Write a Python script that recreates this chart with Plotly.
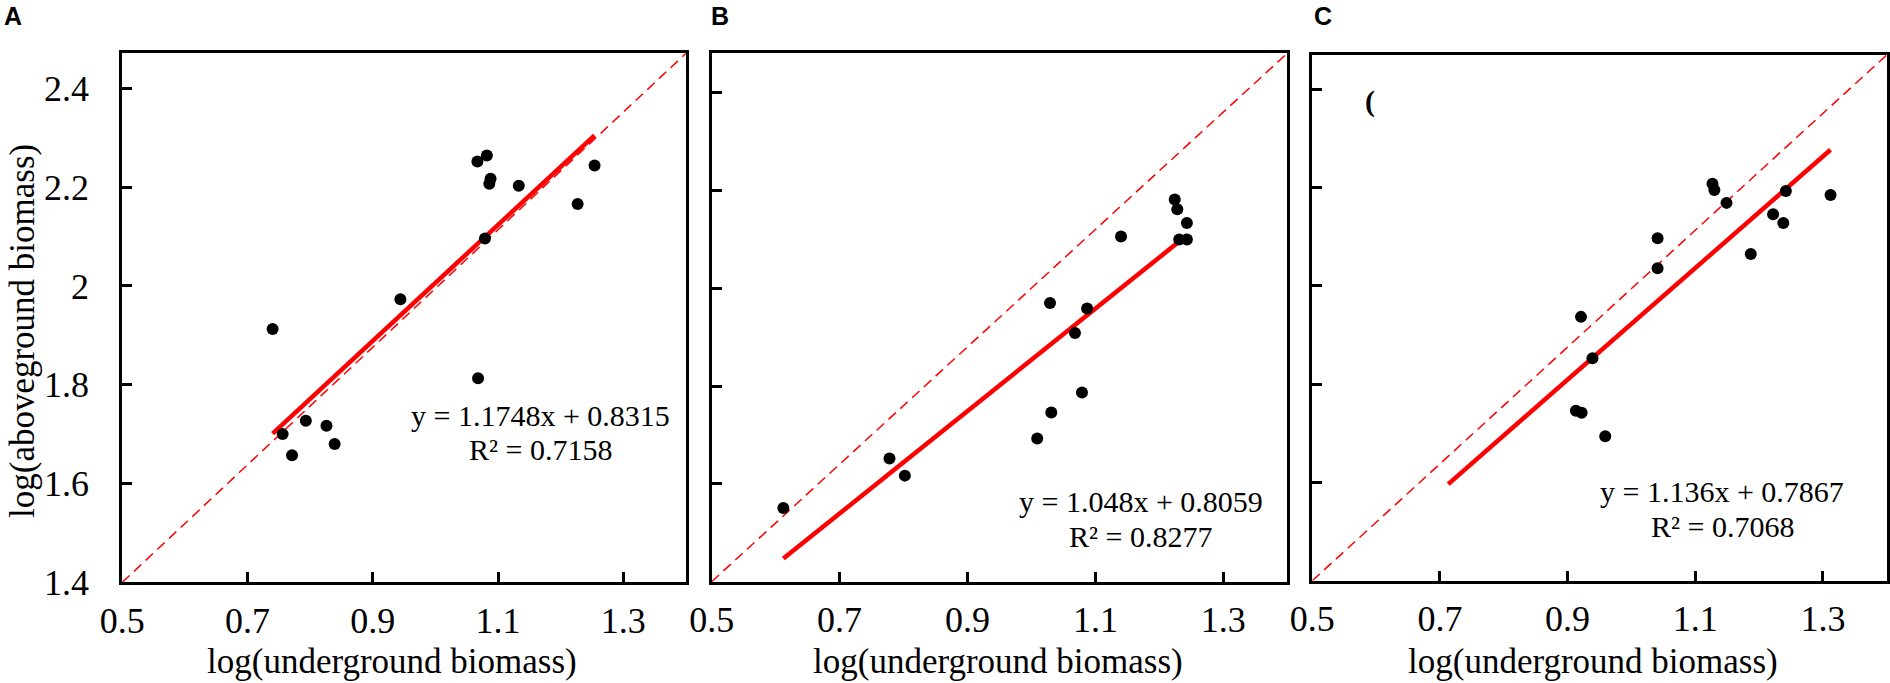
import plotly.graph_objects as go

# ---------------- data ----------------
panel_letters = ["A", "B", "C"]

A_x = [0.740, 0.756, 0.771, 0.793, 0.826, 0.839, 0.944, 1.068, 1.067, 1.082, 1.088, 1.086, 1.079, 1.133, 1.227, 1.254]
A_y = [1.913, 1.700, 1.657, 1.727, 1.717, 1.680, 1.973, 1.813, 2.252, 2.264, 2.217, 2.207, 2.096, 2.203, 2.166, 2.244]

B_x = [0.612, 0.778, 0.802, 1.009, 1.031, 1.029, 1.068, 1.087, 1.079, 1.140, 1.224, 1.228, 1.243, 1.231, 1.243]
B_y = [1.551, 1.652, 1.617, 1.693, 1.746, 1.970, 1.909, 1.959, 1.787, 2.106, 2.182, 2.162, 2.134, 2.100, 2.100]

C_x = [0.921, 0.939, 0.913, 0.922, 0.959, 1.041, 1.041, 1.127, 1.130, 1.149, 1.187, 1.222, 1.242, 1.238, 1.312]
C_y = [1.937, 1.853, 1.746, 1.742, 1.694, 2.097, 2.036, 2.208, 2.195, 2.169, 2.065, 2.146, 2.193, 2.128, 2.185]

fit_slope = [1.1748, 1.048, 1.136]
fit_intercept = [0.8315, 0.8059, 0.7867]
fit_x_start = [0.740, 0.612, 0.713]
fit_x_end = [1.254, 1.243, 1.312]
eq_text = ["y = 1.1748x + 0.8315", "y = 1.048x + 0.8059", "y = 1.136x + 0.7867"]
r2_text = ["R² = 0.7158", "R² = 0.8277", "R² = 0.7068"]

x_range = [0.5, 1.4]
y_ranges = [[1.4, 2.471], [1.4, 2.481], [1.4, 2.470]]

x_tickvals = [0.5, 0.7, 0.9, 1.1, 1.3]
x_ticktext = ["0.5", "0.7", "0.9", "1.1", "1.3"]
y_tickvals = [1.4, 1.6, 1.8, 2.0, 2.2, 2.4]
y_ticktext = ["1.4", "1.6", "1.8", "2", "2.2", "2.4"]

x_title = "log(underground biomass)"
y_title = "log(aboveground biomass)"

# ---------------- layout geometry (pixels of the 1890x683 page) ----------------
W, H = 1890, 683
x_dom_px = [(122.3, 686.0), (711.7, 1287.3), (1312.3, 1886.7)]
y_dom_px = [(53.3, 582.3), (53.3, 581.7), (55.0, 580.7)]
eq_pos = [(1.167, 1.738, 1.668), (1.171, 1.564, 1.492), (1.142, 1.581, 1.511)]
letter_px = [1.7, 708.6, 1311.7]
x_title_cx = [392, 998, 1593]
x_title_bottom_px = 682
y_title_c = (22, 331)

SERIF = "Liberation Serif, Times New Roman, serif"
SANS = "Liberation Sans, Arial, sans-serif"

xs = [A_x, B_x, C_x]
ys = [A_y, B_y, C_y]

fig = go.Figure()
annotations = []

for i in range(3):
    xa = "x" if i == 0 else f"x{i+1}"
    ya = "y" if i == 0 else f"y{i+1}"
    # diagonal dashed reference line (corner to corner of the axes)
    fig.add_trace(go.Scatter(
        x=x_range, y=y_ranges[i], mode="lines",
        line=dict(color="#ff0000", width=1.5, dash="10px,6px"),
        xaxis=xa, yaxis=ya, showlegend=False, hoverinfo="skip"))
    # regression line
    fx = [fit_x_start[i], fit_x_end[i]]
    fy = [fit_slope[i] * v + fit_intercept[i] for v in fx]
    fig.add_trace(go.Scatter(
        x=fx, y=fy, mode="lines",
        line=dict(color="#ff0000", width=4.5),
        xaxis=xa, yaxis=ya, showlegend=False))
    # points
    fig.add_trace(go.Scatter(
        x=xs[i], y=ys[i], mode="markers",
        marker=dict(color="black", size=12, line=dict(width=0)),
        xaxis=xa, yaxis=ya, showlegend=False))

    x0, x1 = x_dom_px[i]
    y0, y1 = y_dom_px[i]
    xd = [x0 / W, x1 / W]
    yd = [1 - y1 / H, 1 - y0 / H]
    xkey = "xaxis" if i == 0 else f"xaxis{i+1}"
    ykey = "yaxis" if i == 0 else f"yaxis{i+1}"
    fig.update_layout({
        xkey: dict(
            domain=xd, range=x_range, anchor=ya, automargin=False,
            showgrid=False, zeroline=False,
            showline=True, linecolor="black", linewidth=3, mirror=True,
            ticks="inside", ticklen=10, tickwidth=2.5, tickcolor="black",
            tickvals=x_tickvals, ticktext=x_ticktext,
            tickfont=dict(family=SERIF, size=36, color="black"),
            ticklabelstandoff=4,
        ),
        ykey: dict(
            domain=yd, range=y_ranges[i], anchor=xa, automargin=False,
            showgrid=False, zeroline=False,
            showline=True, linecolor="black", linewidth=3, mirror=True,
            ticks="inside", ticklen=10, tickwidth=2.5, tickcolor="black",
            tickvals=y_tickvals, ticktext=y_ticktext,
            showticklabels=(i == 0),
            tickfont=dict(family=SERIF, size=36, color="black"),
            ticklabelstandoff=23,
        ),
    })
    # x axis title
    annotations.append(dict(x=x_title_cx[i] / W, y=1 - x_title_bottom_px / H,
                            xref="paper", yref="paper",
                            text=x_title, showarrow=False,
                            xanchor="center", yanchor="bottom", borderpad=0,
                            font=dict(family=SERIF, size=35, color="black")))
    ex, ey1, ey2 = eq_pos[i]
    annotations.append(dict(x=ex, y=ey1, xref=xa, yref=ya, text=eq_text[i], showarrow=False,
                            xanchor="center", yanchor="middle",
                            font=dict(family=SERIF, size=30, color="black")))
    annotations.append(dict(x=ex, y=ey2, xref=xa, yref=ya, text=r2_text[i], showarrow=False,
                            xanchor="center", yanchor="middle",
                            font=dict(family=SERIF, size=30, color="black")))
    annotations.append(dict(x=letter_px[i] / W, y=1 - 15.8 / H, xref="paper", yref="paper",
                            text=panel_letters[i], showarrow=False,
                            xanchor="left", yanchor="middle",
                            font=dict(family=SANS, size=25, color="black", weight="bold")))

# y axis title (panel A only)
annotations.append(dict(x=y_title_c[0] / W, y=1 - y_title_c[1] / H, xref="paper", yref="paper",
                        text=y_title, textangle=-90, showarrow=False,
                        xanchor="center", yanchor="middle", borderpad=0,
                        font=dict(family=SERIF, size=35, color="black")))

# small clipped glyph visible in the upper left of panel C
annotations.append(dict(x=0.590, y=2.377, xref="x3", yref="y3", text="(", showarrow=False,
                        xanchor="center", yanchor="middle",
                        font=dict(family=SERIF, size=30, color="black", weight="bold")))

fig.update_layout(
    width=W, height=H, autosize=False,
    margin=dict(l=0, r=0, t=0, b=0, pad=0, autoexpand=False),
    paper_bgcolor="white", plot_bgcolor="white",
    annotations=annotations,
    showlegend=False,
)

# remove the default page margin so the figure sits at the window's top-left corner
fig.write_html("out.html",
               config={"displayModeBar": False},
               post_script="document.body.style.margin='0';document.body.style.overflow='hidden';")
